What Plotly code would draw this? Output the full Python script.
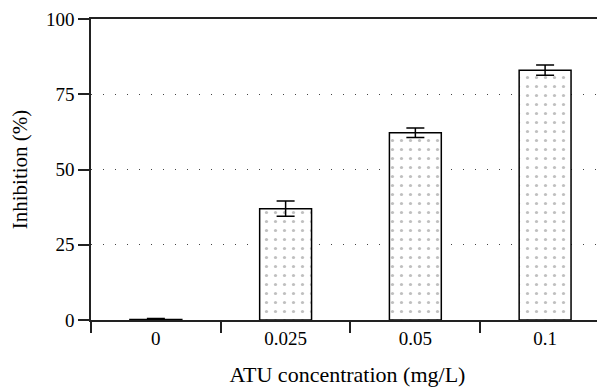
import plotly.graph_objects as go

categories = ["0", "0.025", "0.05", "0.1"]
inhibition = [0.2, 37.0, 62.2, 83.0]
errors = [0.3, 2.5, 1.6, 1.7]
y_ticks = [0, 25, 50, 75, 100]

FONT = "Liberation Serif"

fig = go.Figure()
fig.add_trace(go.Bar(
    x=categories,
    y=inhibition,
    width=0.4,
    marker=dict(
        color="white",
        line=dict(color="black", width=1.5),
        pattern=dict(shape=".", fgcolor="#808080", bgcolor="white", size=9, solidity=0.1),
    ),
    error_y=dict(type="data", array=errors, visible=True, color="black", thickness=1.5, width=9),
    showlegend=False,
))

fig.update_layout(
    width=597, height=383,
    margin=dict(l=83, r=1, t=11, b=71, autoexpand=False),
    paper_bgcolor="white", plot_bgcolor="white",
    font=dict(family=FONT, size=19, color="black"),
)
fig.update_xaxes(
    type="category",
    range=[-0.5, 3.454],
    automargin=False,
    showline=True, linecolor="#222222", linewidth=1.5, mirror=True,
    ticks="outside", ticklen=11, tickwidth=1.5, tickcolor="#222222",
    tickson="boundaries",
    showgrid=False,
    title=dict(text="ATU concentration (mg/L)", font=dict(family=FONT, size=22), standoff=19),
    tickfont=dict(family=FONT, size=19),
)
fig.update_yaxes(
    range=[0, 100],
    automargin=False,
    ticklabeloverflow="allow",
    tickvals=y_ticks,
    showline=True, linecolor="#222222", linewidth=1.5,
    ticks="outside", ticklen=11, tickwidth=1.5, tickcolor="#222222",
    showgrid=True, gridcolor="#444444", gridwidth=1, griddash="1px,11px",
    zeroline=False,
    title=dict(text="Inhibition (%)", font=dict(family=FONT, size=21), standoff=22),
    tickfont=dict(family=FONT, size=19),
)

fig.write_html("out.html")
